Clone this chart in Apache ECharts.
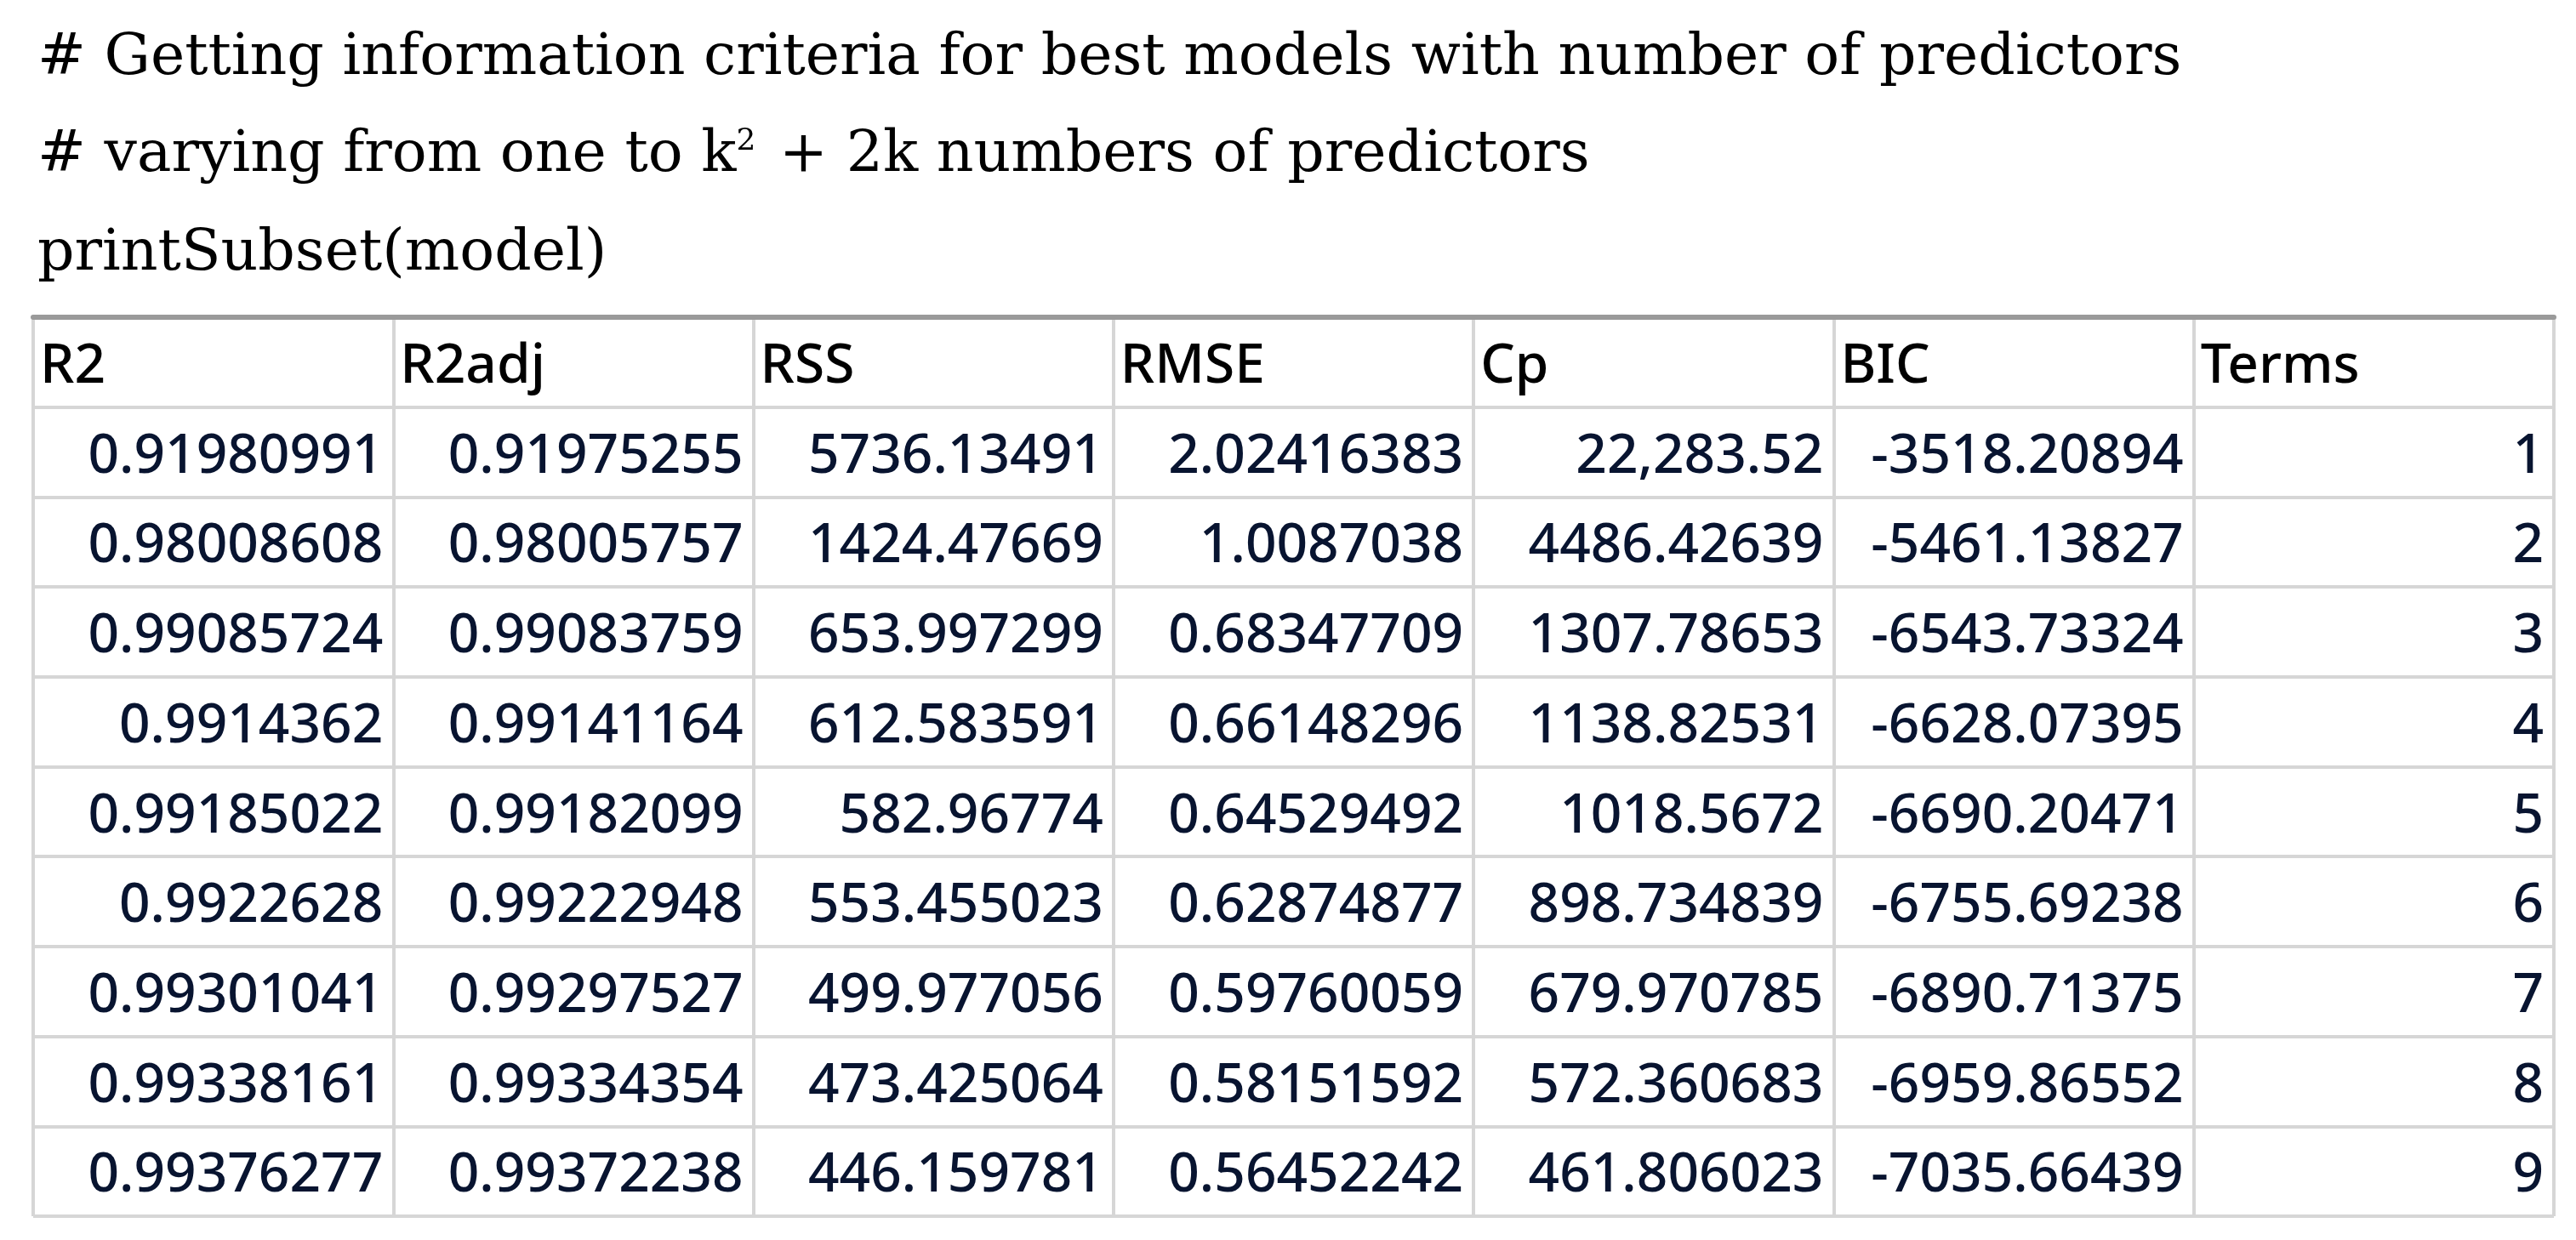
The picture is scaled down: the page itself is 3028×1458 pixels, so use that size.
<!DOCTYPE html>
<html>
<head>
<meta charset="utf-8">
<script src="https://cdn.jsdelivr.net/npm/echarts@6/dist/echarts.min.js"></script>
<style>html,body{margin:0;padding:0;background:#fff}#chartmain{width:3028px;height:1458px}</style>
</head>
<body>
<div id="chartmain"></div>
<script>
var columns = ['R2', 'R2adj', 'RSS', 'RMSE', 'Cp', 'BIC', 'Terms'];
var r2 = ['0.91980991', '0.98008608', '0.99085724', '0.9914362', '0.99185022', '0.9922628', '0.99301041', '0.99338161', '0.99376277'];
var r2adj = ['0.91975255', '0.98005757', '0.99083759', '0.99141164', '0.99182099', '0.99222948', '0.99297527', '0.99334354', '0.99372238'];
var rss = ['5736.13491', '1424.47669', '653.997299', '612.583591', '582.96774', '553.455023', '499.977056', '473.425064', '446.159781'];
var rmse = ['2.02416383', '1.0087038', '0.68347709', '0.66148296', '0.64529492', '0.62874877', '0.59760059', '0.58151592', '0.56452242'];
var cp = ['22,283.52', '4486.42639', '1307.78653', '1138.82531', '1018.5672', '898.734839', '679.970785', '572.360683', '461.806023'];
var bic = ['-3518.20894', '-5461.13827', '-6543.73324', '-6628.07395', '-6690.20471', '-6755.69238', '-6890.71375', '-6959.86552', '-7035.66439'];
var terms = ['1', '2', '3', '4', '5', '6', '7', '8', '9'];
var rowNames = ['head', 'r1', 'r2', 'r3', 'r4', 'r5', 'r6', 'r7', 'r8', 'r9'];

var colData = [r2, r2adj, rss, rmse, cp, bic, terms];
var cells = [];
for (var c = 0; c < columns.length; c++) {
    cells.push([c, 0, columns[c], 1]);
    for (var r = 0; r < colData[c].length; r++) {
        cells.push([c, r + 1, colData[c][r], 0]);
    }
}

var titleFont = '"DejaVu Serif", "Liberation Serif", serif';
var option = {
    animation: false,
    title: [
        { text: '# Getting information criteria for best models with number of predictors', left: 39, top: 30 },
        { text: '# varying from one to k{sup|2} + 2k numbers of predictors', left: 39, top: 144 },
        { text: 'printSubset(model)', left: 39, top: 260 }
    ].map(function (t) {
        t.textStyle = {
            fontFamily: titleFont, fontSize: 68, fontWeight: 'normal', color: '#000',
            rich: { sup: { fontFamily: titleFont, fontSize: 36, verticalAlign: 'top', padding: [0, 6, 24, 0] } }
        };
        return t;
    }),
    grid: { left: 39, right: 26, top: 373, bottom: 28 },
    xAxis: {
        type: 'category', data: columns, position: 'top',
        axisLine: { show: true, lineStyle: { color: '#9a9a9a', width: 6 } },
        axisTick: { show: false }, axisLabel: { show: false },
        splitLine: { show: true, lineStyle: { color: '#d6d6d6', width: 4 } }
    },
    yAxis: {
        type: 'category', data: rowNames, inverse: true,
        axisLine: { show: false }, axisTick: { show: false }, axisLabel: { show: false },
        splitLine: { show: true, lineStyle: { color: '#d6d6d6', width: 4 } }
    },
    series: [{
        type: 'custom',
        data: cells,
        renderItem: function (params, api) {
            var p = api.coord([api.value(0), api.value(1)]);
            var s = api.size([1, 1]);
            var head = api.value(3) === 1;
            var x = head ? p[0] - s[0] / 2 + 8 : p[0] + s[0] / 2 - 12;
            return {
                type: 'text',
                style: {
                    x: x, y: p[1] + 6,
                    text: cells[params.dataIndex][2],
                    textAlign: head ? 'left' : 'right',
                    textVerticalAlign: 'middle',
                    font: '500 64px "Noto Sans"',
                    fill: head ? '#000' : '#081430'
                }
            };
        }
    }]
};
var myChart = echarts.init(document.getElementById('chartmain'));
myChart.setOption(option);
</script>
</body>
</html>
